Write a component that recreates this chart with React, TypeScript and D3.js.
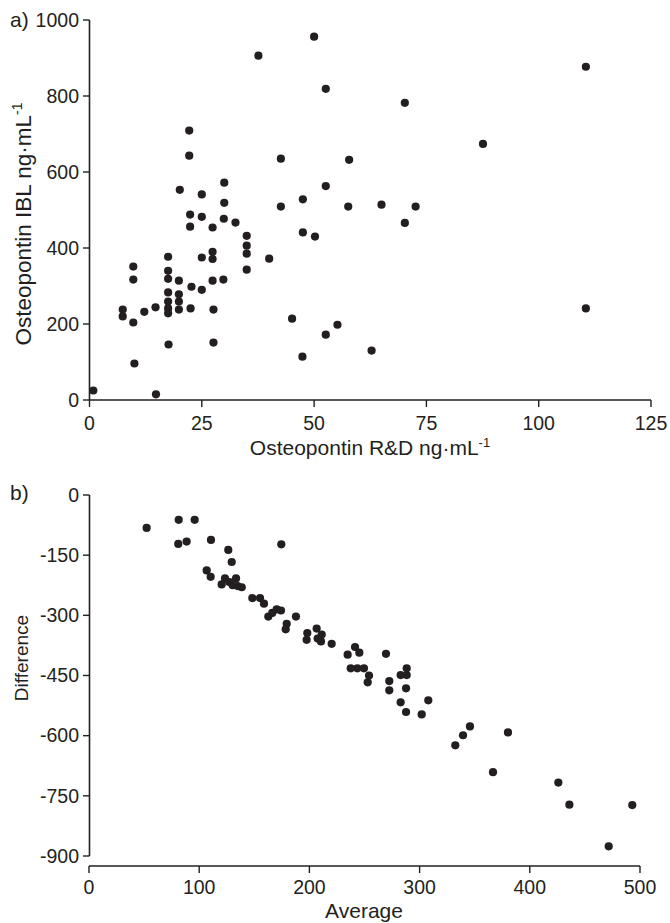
import React from "react";
import { scaleLinear } from "d3";

// panel a) : R&D (x) vs IBL (y), ng/mL
const rdValues = [
  0.85, 7.4, 7.4, 9.75, 9.75, 9.75, 10.0, 12.2, 14.7, 14.8,
  17.5, 17.5, 17.5, 17.5, 17.5, 17.5, 17.5, 17.6, 19.9, 19.9,
  19.9, 19.9, 20.1, 22.2, 22.2, 22.4, 22.4, 22.5, 22.7, 25.0,
  25.0, 25.0, 25.0, 27.4, 27.4, 27.4, 27.4, 27.6, 27.6, 30.0,
  30.0, 29.9, 29.8, 32.5, 35.0, 35.0, 35.0, 35.0, 37.6, 40.0,
  42.6, 42.6, 45.1, 47.5, 47.5, 47.4, 50.0, 50.2, 52.6, 52.6,
  52.6, 55.2, 57.8, 57.6, 62.8, 65.0, 70.2, 70.2, 72.6, 87.6,
  110.5, 110.5,
];
const iblValues = [
  25, 238, 220, 351, 317, 204, 96, 232, 244, 15,
  377, 340, 319, 283, 259, 241, 228, 146, 314, 278,
  259, 238, 553, 709, 643, 488, 456, 241, 298, 541,
  482, 375, 290, 454, 390, 371, 314, 238, 151, 572,
  519, 477, 317, 467, 432, 406, 385, 343, 906, 372,
  635, 509, 214, 528, 441, 114, 956, 430, 819, 563,
  172, 198, 632, 509, 130, 514, 782, 466, 509, 674,
  877, 241,
];

// panel b) : Bland-Altman, average vs difference
const avgValues = [
  52.3, 81.4, 95.9, 81.0, 88.6, 110.7, 126.4, 129.5, 174.5, 106.8,
  110.4, 120.4, 123.4, 127.3, 130.4, 133.4, 134.9, 138.6, 148.2, 155.2,
  158.8, 162.7, 166.3, 170.3, 174.2, 187.8, 179.4, 178.5, 197.5, 198.1,
  206.6, 207.5, 211.2, 210.5, 220.2, 234.7, 241.4, 245.3, 269.5, 237.5,
  243.5, 249.5, 254.1, 252.9, 272.5, 272.5, 282.8, 288.3, 288.3, 287.7,
  282.8, 287.7, 307.9, 301.9, 332.4, 339.4, 345.7, 380.2, 366.6, 425.9,
  435.9, 493, 471.6,
];
const diffValues = [
  -82, -62, -62, -122, -116, -112, -137, -167, -123, -188,
  -204, -223, -208, -217, -225, -208, -227, -230, -257, -257,
  -271, -303, -294, -285, -288, -303, -321, -335, -361, -344,
  -333, -358, -348, -365, -371, -398, -379, -393, -396, -432,
  -432, -432, -450, -467, -464, -487, -449, -432, -449, -482,
  -517, -541, -512, -547, -624, -599, -577, -592, -691, -717,
  -772, -773, -876,
];

const aXTicks = [0, 25, 50, 75, 100, 125];
const aYTicks = [0, 200, 400, 600, 800, 1000];
const bXTicks = [0, 100, 200, 300, 400, 500];
const bYTicks = [0, -150, -300, -450, -600, -750, -900];

const INK = "#231f20";
const FONT = "'Liberation Sans', Arial, Helvetica, sans-serif";
const TICK_FS = 19.5;
const TITLE_FS = 21;

export default function App() {
  // panel a scales
  const ax = scaleLinear().domain([0, 125]).range([89.5, 651]);
  const ay = scaleLinear().domain([0, 1000]).range([400, 20]);
  // panel b scales
  const bx = scaleLinear().domain([0, 500]).range([89, 640]);
  const by = scaleLinear().domain([0, -900]).range([495, 856]);
  const bAxisY = 866;

  return (
    <svg
      width={670}
      height={923}
      style={{ position: "absolute", left: 0, top: 0, background: "#fff" }}
      fontFamily={FONT}
    >
      {/* ---------- panel a ---------- */}
      <text x={10} y={27} fontSize={TITLE_FS} fill={INK}>a)</text>
      <line x1={89.5} x2={89.5} y1={ay(1000)} y2={ay(0)} stroke={INK} strokeWidth={1.6} />
      {aYTicks.map(t => (
        <g key={"ay" + t}>
          <line x1={83} x2={89.5} y1={ay(t)} y2={ay(t)} stroke={INK} strokeWidth={1.4} />
          <text x={79} y={ay(t)} dy="0.35em" textAnchor="end" fontSize={TICK_FS} fill={INK}>{t}</text>
        </g>
      ))}
      <line x1={ax(0)} x2={ax(125)} y1={400} y2={400} stroke={INK} strokeWidth={1.6} />
      {aXTicks.map(t => (
        <g key={"ax" + t}>
          <line x1={ax(t)} x2={ax(t)} y1={400} y2={407} stroke={INK} strokeWidth={1.4} />
          <text x={ax(t)} y={430} textAnchor="middle" fontSize={TICK_FS} fill={INK}>{t}</text>
        </g>
      ))}
      <text x={370} y={455} textAnchor="middle" fontSize={TITLE_FS} fill={INK}>
        Osteopontin R&amp;D ng·mL<tspan dy={-8} fontSize={13}>-1</tspan>
      </text>
      <text
        transform={`translate(31,224) rotate(-90)`}
        textAnchor="middle"
        fontSize={22.5}
        fill={INK}
      >
        Osteopontin IBL ng·mL<tspan dy={-9} fontSize={14}>-1</tspan>
      </text>
      {rdValues.map((v, i) => (
        <circle key={"a" + i} cx={ax(v)} cy={ay(iblValues[i])} r={4.1} fill={INK} />
      ))}

      {/* ---------- panel b ---------- */}
      <text x={10} y={500} fontSize={TITLE_FS} fill={INK}>b)</text>
      <line x1={89.5} x2={89.5} y1={by(0)} y2={by(-900)} stroke={INK} strokeWidth={1.6} />
      {bYTicks.map(t => (
        <g key={"by" + t}>
          <line x1={83} x2={89.5} y1={by(t)} y2={by(t)} stroke={INK} strokeWidth={1.4} />
          <text x={79} y={by(t)} dy="0.35em" textAnchor="end" fontSize={TICK_FS} fill={INK}>{t}</text>
        </g>
      ))}
      <line x1={bx(0)} x2={bx(500)} y1={bAxisY} y2={bAxisY} stroke={INK} strokeWidth={1.6} />
      {bXTicks.map(t => (
        <g key={"bx" + t}>
          <line x1={bx(t)} x2={bx(t)} y1={bAxisY} y2={bAxisY + 7} stroke={INK} strokeWidth={1.4} />
          <text x={bx(t)} y={bAxisY + 28} textAnchor="middle" fontSize={TICK_FS} fill={INK}>{t}</text>
        </g>
      ))}
      <text x={364} y={918} textAnchor="middle" fontSize={TITLE_FS} fill={INK}>Average</text>
      <text
        transform={`translate(28,658) rotate(-90)`}
        textAnchor="middle"
        fontSize={19}
        fill={INK}
      >
        Difference
      </text>
      {avgValues.map((v, i) => (
        <circle key={"b" + i} cx={bx(v)} cy={by(diffValues[i])} r={4.1} fill={INK} />
      ))}
    </svg>
  );
}
